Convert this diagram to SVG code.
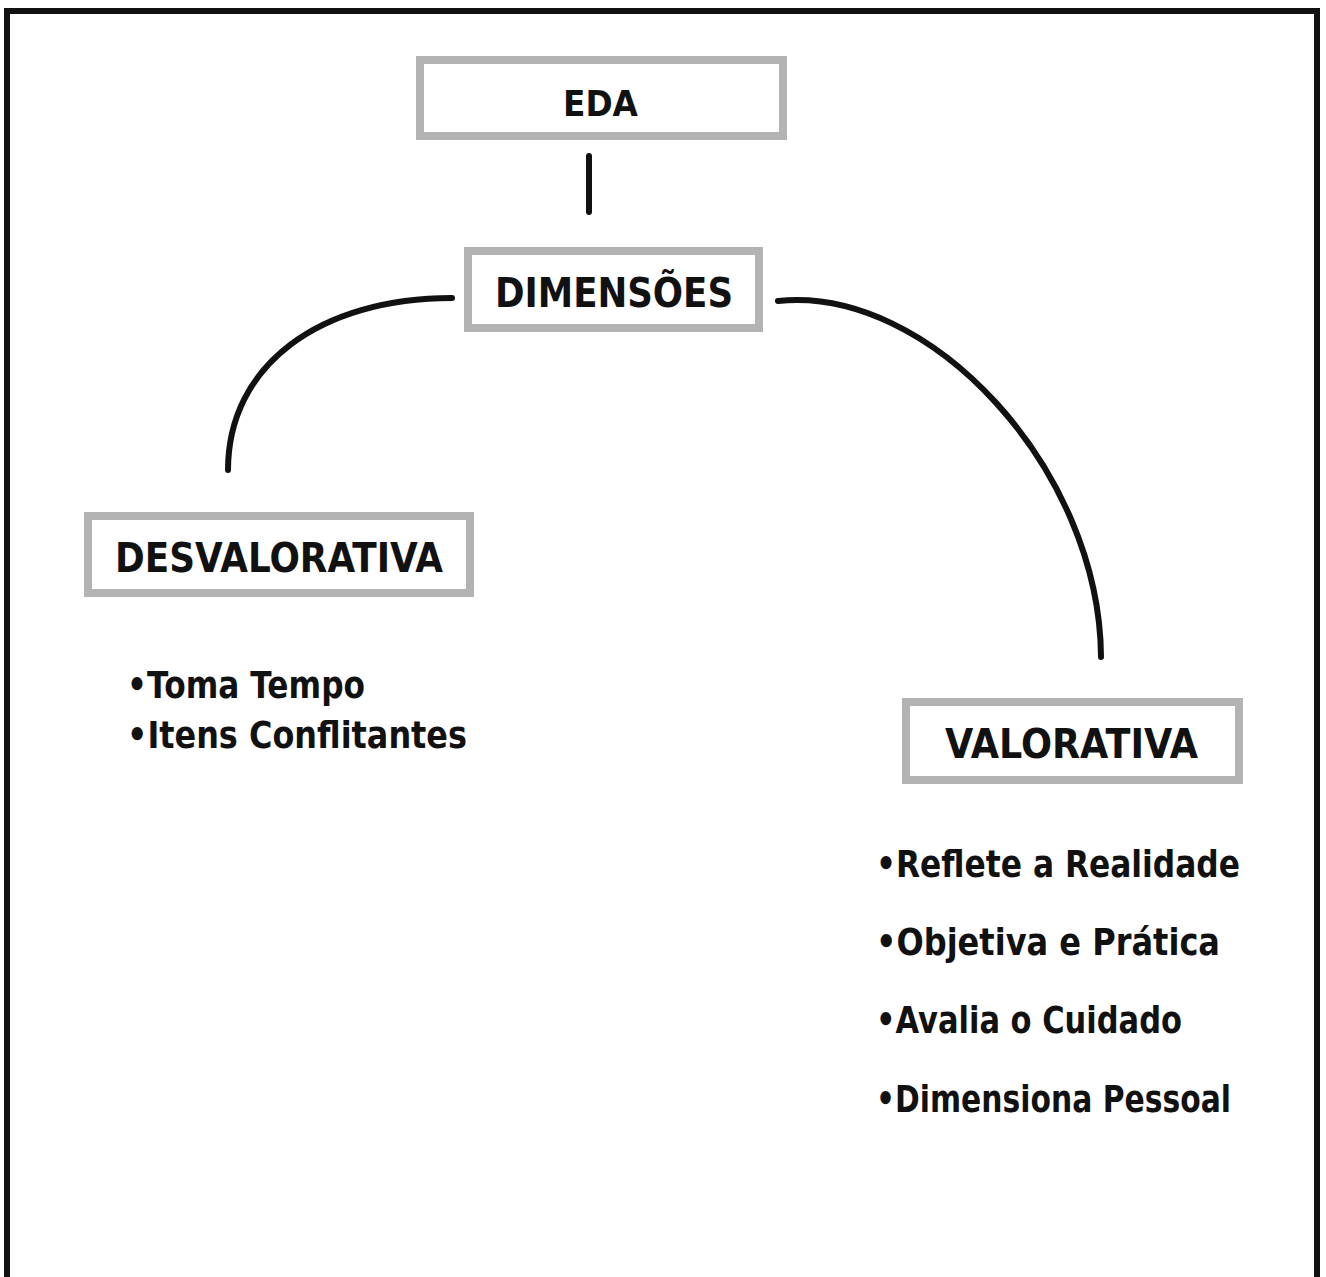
<svg xmlns="http://www.w3.org/2000/svg" width="1326" height="1277" viewBox="0 0 1326 1277">
<style>
.box{fill:#fff;stroke:#b3b3b3;stroke-width:8}
.t{font-family:"DejaVu Sans","Liberation Sans",sans-serif;font-weight:bold;fill:#111}
.c{fill:none;stroke:#111;stroke-width:6;stroke-linecap:round}
</style>
<rect width="1326" height="1277" fill="#fff"/>
<path d="M7,1277 V11 H1317 V1277" fill="none" stroke="#111" stroke-width="6"/>
<g id="connectors">
<path class="c" d="M589,156 V212"/>
<path class="c" d="M228,470 C228,365 320,298 452,298"/>
<path class="c" d="M778,301 C930,285 1100,470 1101,657"/>
</g>
<g id="eda">
<rect class="box" x="420" y="60" width="363" height="76"/>
<text class="t" x="563" y="116" font-size="36" textLength="75" lengthAdjust="spacingAndGlyphs">EDA</text>
</g>
<g id="dimensoes">
<rect class="box" x="468" y="251" width="291" height="77"/>
<text class="t" x="495" y="307" font-size="40" textLength="238" lengthAdjust="spacingAndGlyphs">DIMENSÕES</text>
</g>
<g id="desvalorativa">
<rect class="box" x="88" y="516" width="382" height="77"/>
<text class="t" x="115" y="572" font-size="41" textLength="328" lengthAdjust="spacingAndGlyphs">DESVALORATIVA</text>
<text class="t" x="127" y="698" font-size="38" textLength="238" lengthAdjust="spacingAndGlyphs">•Toma Tempo</text>
<text class="t" x="127" y="748" font-size="38" textLength="340" lengthAdjust="spacingAndGlyphs">•Itens Conflitantes</text>
</g>
<g id="valorativa">
<rect class="box" x="906" y="702" width="333" height="78"/>
<text class="t" x="945" y="758" font-size="41" textLength="253" lengthAdjust="spacingAndGlyphs">VALORATIVA</text>
<text class="t" x="876" y="877" font-size="38" textLength="364" lengthAdjust="spacingAndGlyphs">•Reflete a Realidade</text>
<text class="t" x="876" y="955" font-size="38" textLength="344" lengthAdjust="spacingAndGlyphs">•Objetiva e Prática</text>
<text class="t" x="876" y="1033" font-size="38" textLength="306" lengthAdjust="spacingAndGlyphs">•Avalia o Cuidado</text>
<text class="t" x="876" y="1112" font-size="38" textLength="355" lengthAdjust="spacingAndGlyphs">•Dimensiona Pessoal</text>
</g>
</svg>
